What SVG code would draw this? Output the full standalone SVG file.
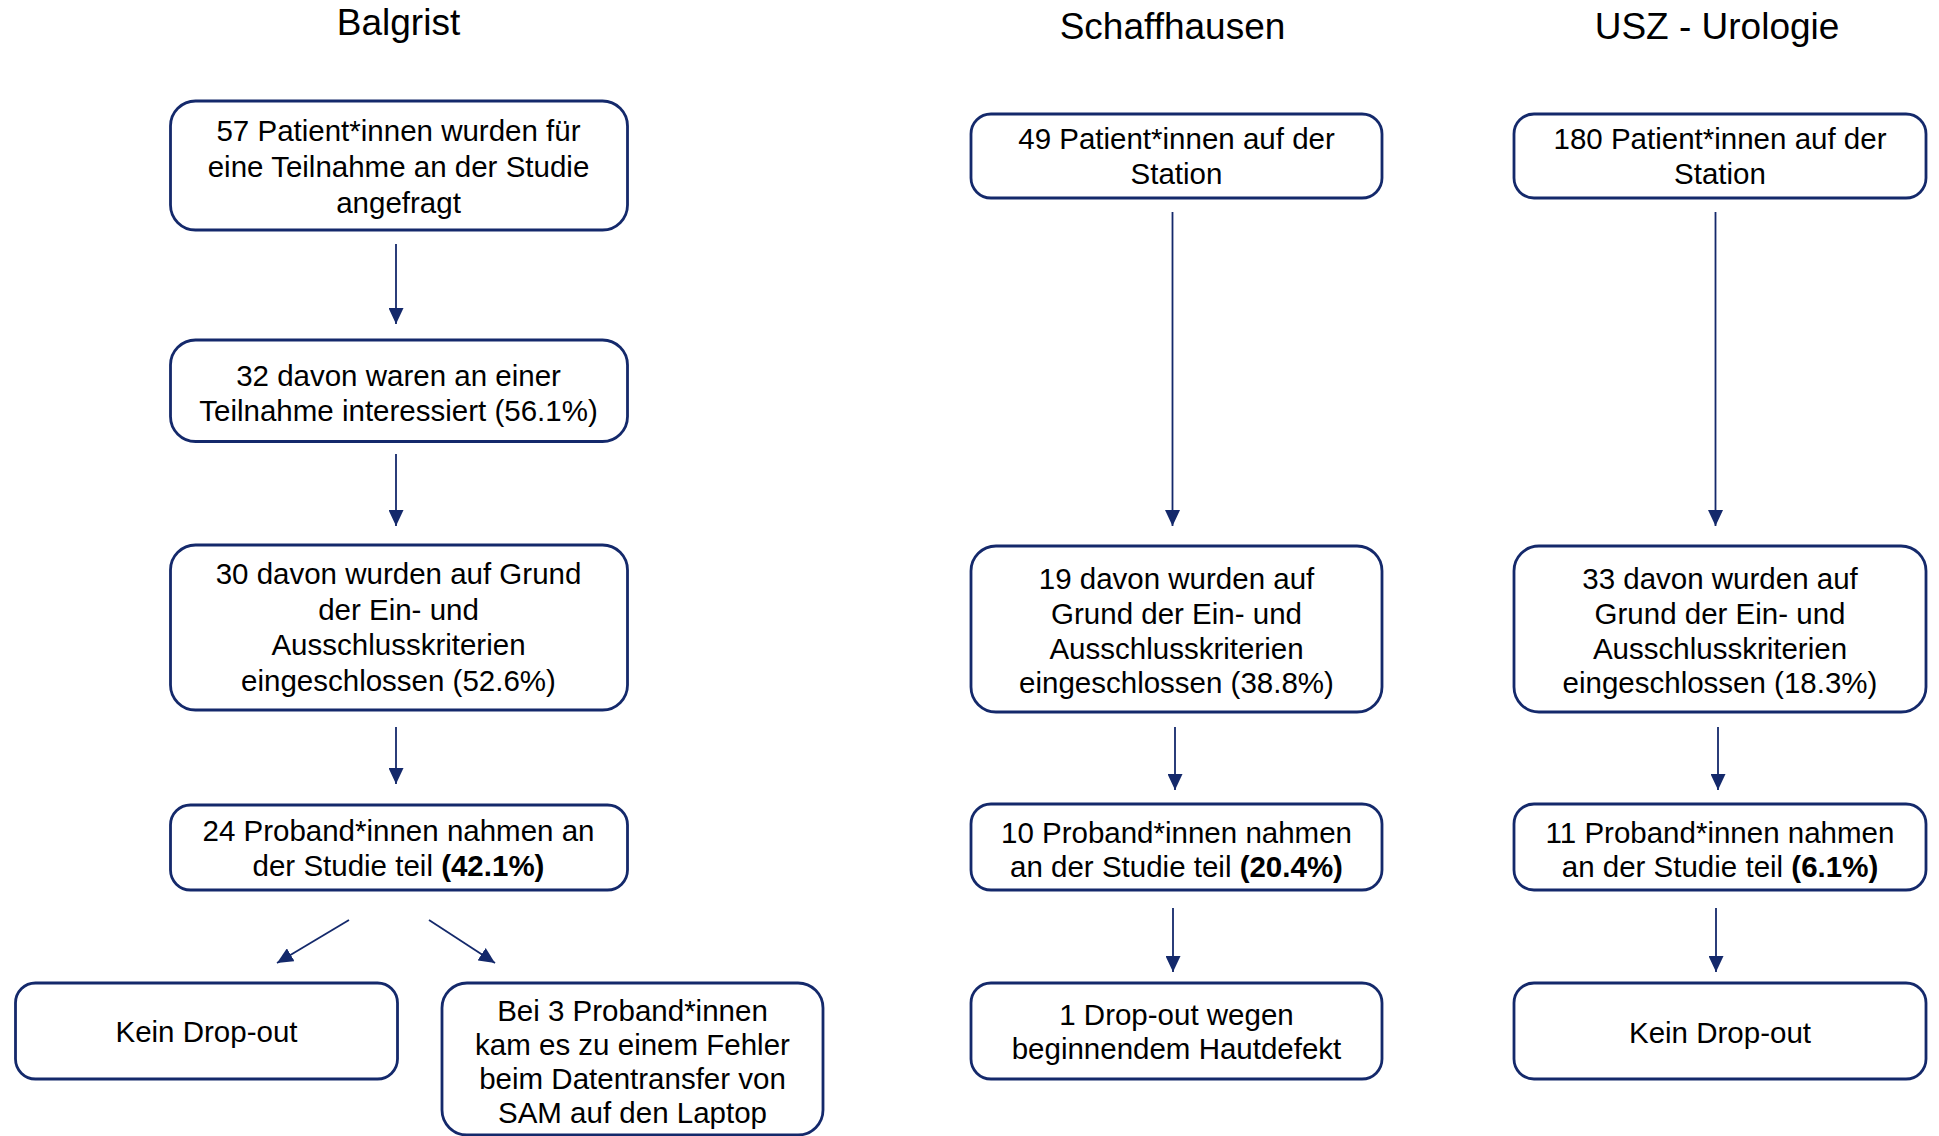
<svg xmlns="http://www.w3.org/2000/svg" width="1939" height="1136" viewBox="0 0 1939 1136">
<style>
.box{fill:#fff;stroke:#14296b;stroke-width:2.8}
.t{font-family:"Liberation Sans",Arial,sans-serif;font-size:29.5px;fill:#000;text-anchor:middle}
.h{font-family:"Liberation Sans",Arial,sans-serif;font-size:37px;fill:#000;text-anchor:middle}
.b{font-weight:bold}
.c{stroke:#14296b;stroke-width:1.8;fill:none;marker-end:url(#ah)}
</style>
<defs>
<marker id="ah" viewBox="0 0 16 15" refX="16" refY="7.5" markerWidth="16" markerHeight="15" markerUnits="userSpaceOnUse" orient="auto">
<path d="M0,0 L16,7.5 L0,15 Z" fill="#14296b"/>
</marker>
</defs>
<rect width="1939" height="1136" fill="#fff"/>
<g id="titles">
<text class="h" x="398.5" y="35">Balgrist</text>
<text class="h" x="1172.5" y="39">Schaffhausen</text>
<text class="h" x="1717" y="39">USZ - Urologie</text>
</g>
<g id="connectors">
<line class="c" x1="396" y1="244" x2="396" y2="324"/>
<line class="c" x1="396" y1="454" x2="396" y2="526"/>
<line class="c" x1="396" y1="727" x2="396" y2="784"/>
<line class="c" x1="349" y1="920" x2="277" y2="963"/>
<line class="c" x1="429" y1="920" x2="495" y2="963"/>
<line class="c" x1="1172.5" y1="212" x2="1172.5" y2="526"/>
<line class="c" x1="1175" y1="727" x2="1175" y2="790"/>
<line class="c" x1="1173" y1="908" x2="1173" y2="972"/>
<line class="c" x1="1715.5" y1="212" x2="1715.5" y2="526"/>
<line class="c" x1="1718" y1="727" x2="1718" y2="790"/>
<line class="c" x1="1716" y1="908" x2="1716" y2="972"/>
</g>
<g id="b1"><rect class="box" x="170.5" y="101" width="457" height="129" rx="25"/>
<text class="t" x="398.5" y="141">57 Patient*innen wurden für</text>
<text class="t" x="398.5" y="177">eine Teilnahme an der Studie</text>
<text class="t" x="398.5" y="213">angefragt</text></g>
<g id="b2"><rect class="box" x="170.5" y="340" width="457" height="101.5" rx="25"/>
<text class="t" x="398.5" y="386">32 davon waren an einer</text>
<text class="t" x="398.5" y="421">Teilnahme interessiert (56.1%)</text></g>
<g id="b3"><rect class="box" x="170.5" y="545" width="457" height="165" rx="25"/>
<text class="t" x="398.5" y="584">30 davon wurden auf Grund</text>
<text class="t" x="398.5" y="619.5">der Ein- und</text>
<text class="t" x="398.5" y="655">Ausschlusskriterien</text>
<text class="t" x="398.5" y="690.5">eingeschlossen (52.6%)</text></g>
<g id="b4"><rect class="box" x="170.5" y="805" width="457" height="85" rx="20"/>
<text class="t" x="398.5" y="841">24 Proband*innen nahmen an</text>
<text class="t" x="398.5" y="876">der Studie teil <tspan class="b">(42.1%)</tspan></text></g>
<g id="b5"><rect class="box" x="15.5" y="983" width="382" height="96" rx="20"/>
<text class="t" x="206.5" y="1042">Kein Drop-out</text></g>
<g id="b6"><rect class="box" x="442" y="983" width="381" height="152" rx="25"/>
<text class="t" x="632.5" y="1021">Bei 3 Proband*innen</text>
<text class="t" x="632.5" y="1055">kam es zu einem Fehler</text>
<text class="t" x="632.5" y="1089">beim Datentransfer von</text>
<text class="t" x="632.5" y="1123">SAM auf den Laptop</text></g>
<g id="s1"><rect class="box" x="971" y="114" width="411" height="84" rx="20"/>
<text class="t" x="1176.5" y="149">49 Patient*innen auf der</text>
<text class="t" x="1176.5" y="184">Station</text></g>
<g id="s2"><rect class="box" x="971" y="546" width="411" height="166" rx="25"/>
<text class="t" x="1176.5" y="589">19 davon wurden auf</text>
<text class="t" x="1176.5" y="624">Grund der Ein- und</text>
<text class="t" x="1176.5" y="659">Ausschlusskriterien</text>
<text class="t" x="1176.5" y="693">eingeschlossen (38.8%)</text></g>
<g id="s3"><rect class="box" x="971" y="804" width="411" height="86" rx="20"/>
<text class="t" x="1176.5" y="843">10 Proband*innen nahmen</text>
<text class="t" x="1176.5" y="877">an der Studie teil <tspan class="b">(20.4%)</tspan></text></g>
<g id="s4"><rect class="box" x="971" y="983" width="411" height="96" rx="20"/>
<text class="t" x="1176.5" y="1025">1 Drop-out wegen</text>
<text class="t" x="1176.5" y="1059">beginnendem Hautdefekt</text></g>
<g id="u1"><rect class="box" x="1514" y="114" width="412" height="84" rx="20"/>
<text class="t" x="1720" y="149">180 Patient*innen auf der</text>
<text class="t" x="1720" y="184">Station</text></g>
<g id="u2"><rect class="box" x="1514" y="546" width="412" height="166" rx="25"/>
<text class="t" x="1720" y="589">33 davon wurden auf</text>
<text class="t" x="1720" y="624">Grund der Ein- und</text>
<text class="t" x="1720" y="659">Ausschlusskriterien</text>
<text class="t" x="1720" y="693">eingeschlossen (18.3%)</text></g>
<g id="u3"><rect class="box" x="1514" y="804" width="412" height="86" rx="20"/>
<text class="t" x="1720" y="843">11 Proband*innen nahmen</text>
<text class="t" x="1720" y="877">an der Studie teil <tspan class="b">(6.1%)</tspan></text></g>
<g id="u4"><rect class="box" x="1514" y="983" width="412" height="96" rx="20"/>
<text class="t" x="1720" y="1043">Kein Drop-out</text></g>
</svg>
